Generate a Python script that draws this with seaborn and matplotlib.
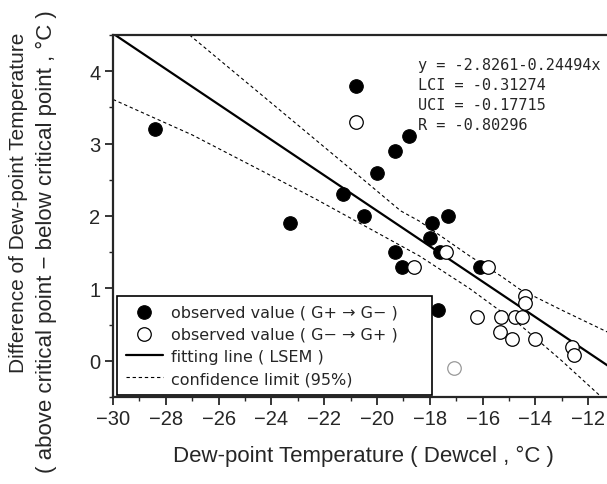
import matplotlib
matplotlib.use("Agg")
import matplotlib.pyplot as plt
import seaborn as sns
import pandas as pd

# ---- data ----
filled_x = [-28.4, -23.3, -20.8, -21.3, -20.5, -20.0, -19.3, -18.8, -19.3, -19.05,
            -17.9, -17.3, -18.0, -17.6, -16.1, -17.7]
filled_y = [3.2, 1.9, 3.8, 2.3, 2.0, 2.6, 2.9, 3.1, 1.5, 1.3,
            1.9, 2.0, 1.7, 1.5, 1.3, 0.7]

open_x = [-20.8, -18.6, -17.4, -15.8, -16.2, -15.3, -14.77, -14.5, -14.4, -14.4,
          -15.35, -14.9, -14.0, -12.6, -12.53]
open_y = [3.3, 1.3, 1.5, 1.3, 0.6, 0.6, 0.6, 0.6, 0.9, 0.8,
          0.4, 0.3, 0.3, 0.19, 0.08]

gray_x = [-17.1]
gray_y = [-0.1]

fit_x = [-30.0, -11.0]
fit_y = [4.52, -0.13]

upper_x = [-27.1, -24.0, -21.0, -19.1, -18.4, -16.5, -15.3, -14.6, -13.0, -11.0]
upper_y = [4.50, 3.56, 2.65, 2.07, 1.93, 1.45, 1.17, 0.99, 0.70, 0.35]

lower_x = [-30.0, -27.0, -24.4, -22.3, -19.1, -18.4, -16.5, -15.3, -14.85, -13.0, -11.5]
lower_y = [3.61, 3.12, 2.63, 2.23, 1.59, 1.45, 1.00, 0.68, 0.58, 0.00, -0.50]

x_ticks = [-30, -28, -26, -24, -22, -20, -18, -16, -14, -12]
y_ticks = [0, 1, 2, 3, 4]

stats_text = ["y = -2.8261-0.24494x", "LCI = -0.31274", "UCI = -0.17715", "R = -0.80296"]

legend_labels = ["observed value ( G+ \u2192 G\u2212 )",
                 "observed value ( G\u2212 \u2192 G+ )",
                 "fitting line ( LSEM )",
                 "confidence limit (95%)"]

xlabel = "Dew-point Temperature ( Dewcel , \u00b0C )"
ylabel_1 = "Difference of Dew-point Temperature"
ylabel_2 = "( above critical point \u2212 below critical point , \u00b0C )"

# ---- style ----
sns.set_style("ticks")
plt.rcParams['font.family'] = ['Liberation Sans', 'DejaVu Sans']
plt.rcParams['axes.linewidth'] = 1.6

fig = plt.figure(figsize=(6.07, 4.85), dpi=100)
ax = fig.add_axes([113 / 607, 1 - 398 / 485, (19 * 26.4) / 607, (398 - 36) / 485])

df_fit = pd.DataFrame({"x": fit_x, "y": fit_y})
df_up = pd.DataFrame({"x": upper_x, "y": upper_y})
df_lo = pd.DataFrame({"x": lower_x, "y": lower_y})

sns.lineplot(data=df_fit, x="x", y="y", ax=ax, color="black", lw=1.6,
             label=legend_labels[2], sort=False, zorder=2)
sns.lineplot(data=df_up, x="x", y="y", ax=ax, color="black", lw=0.8,
             linestyle=(0, (3, 2.5)), label=legend_labels[3], sort=False, zorder=2)
sns.lineplot(data=df_lo, x="x", y="y", ax=ax, color="black", lw=0.8,
             linestyle=(0, (3, 2.5)), label="_nolegend_", sort=False, zorder=2)

sns.scatterplot(x=filled_x, y=filled_y, ax=ax, s=95, color="black",
                edgecolor="black", linewidth=0.8, label=legend_labels[0], zorder=3)
sns.scatterplot(x=open_x, y=open_y, ax=ax, s=95, color="white",
                edgecolor="black", linewidth=0.9, label=legend_labels[1], zorder=4)
sns.scatterplot(x=gray_x, y=gray_y, ax=ax, s=95, color="white",
                edgecolor="#999999", linewidth=0.9, label="_nolegend_", zorder=4)

ax.set_xlim(-30, -11)
ax.set_ylim(-0.5, 4.5)
ax.set_xticks(x_ticks)
ax.set_yticks(y_ticks)
ax.set_xticks([v + 1 for v in x_ticks], minor=True)
ax.set_yticks([v - 0.5 for v in y_ticks] + [4.5], minor=True)
ax.tick_params(axis="both", which="major", length=6, width=1.3, labelsize=14.5,
               direction="out", pad=3)
ax.tick_params(axis="both", which="minor", length=3, width=1.0, direction="out")
for s in ["top", "right", "left", "bottom"]:
    ax.spines[s].set_visible(True)
    ax.spines[s].set_linewidth(1.6)

ax.set_xlabel(xlabel, fontsize=16, labelpad=12)
ax.set_ylabel("")
fig.text(19 / 607, 1 - 203 / 485, ylabel_1, rotation=90, fontsize=15,
         ha="center", va="center")
fig.text(46 / 607, 1 - 242 / 485, ylabel_2, rotation=90, fontsize=16,
         ha="center", va="center")

fig.text(418 / 607, 1 - 58 / 485, "\n".join(stats_text), family="DejaVu Sans Mono",
         fontsize=11, va="top", ha="left", linespacing=1.42)

handles, labels = ax.get_legend_handles_labels()
order = [labels.index(l) for l in legend_labels]
leg = ax.legend([handles[i] for i in order], [labels[i] for i in order],
                loc="lower left", bbox_to_anchor=(0.008, 0.006, 0.628, 0.0),
                mode="expand", borderaxespad=0,
                prop={"family": "DejaVu Sans", "size": 11.5},
                frameon=True, fancybox=False, edgecolor="black",
                framealpha=1, handlelength=2.3, handletextpad=0.5,
                labelspacing=0.45, borderpad=0.55)
leg.get_frame().set_linewidth(1.2)

fig.savefig("out.png", dpi=100)
